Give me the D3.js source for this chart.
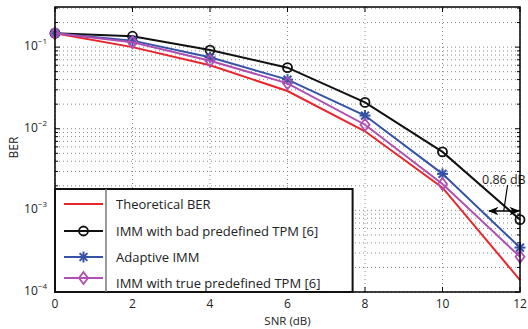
<!DOCTYPE html>
<html>
<head>
<meta charset="utf-8">
<script src="https://cdn.jsdelivr.net/npm/d3@7"></script>
<style>
  body { margin: 0; background: #fff; }
  text { font-family: "Open Sans", sans-serif; }
</style>
</head>
<body>
<div id="plot"></div>
<script>
// data
const snr = [0, 2, 4, 6, 8, 10, 12];
const theoretical = [0.148, 0.100, 0.060, 0.029, 0.0093, 0.0019, 0.00014];
const immBad = [0.148, 0.136, 0.092, 0.056, 0.021, 0.0052, 0.00077];
const adaptive = [0.148, 0.120, 0.075, 0.040, 0.0145, 0.0028, 0.00035];
const immTrue = [0.148, 0.115, 0.068, 0.036, 0.0112, 0.0021, 0.00027];
const xTicks = [0, 2, 4, 6, 8, 10, 12];
const yDecades = [-4, -3, -2, -1];
const legendLabels = ["Theoretical BER", "IMM with bad predefined TPM [6]", "Adaptive IMM", "IMM with true predefined TPM [6]"];

// set the dimensions and margins of the graph
const margin = {top: 7, right: 8, bottom: 37, left: 55},
    width = 528 - margin.left - margin.right,
    height = 329 - margin.top - margin.bottom;

const svg = d3.select("#plot")
    .append("svg")
    .attr("width", 528)
    .attr("height", 329)
    .append("g")
    .attr("transform", "translate(" + margin.left + "," + margin.top + ")");

const x = d3.scaleLinear().domain([0, 12]).range([0, width]);
const y = d3.scaleLog().domain([1e-4, 0.31]).range([height, 0]);

// grid
const minorVals = [];
for (let e = -4; e <= -1; e++) {
    for (let m = 1; m <= 9; m++) {
        const v = m * Math.pow(10, e);
        if (v <= 0.31) minorVals.push(v);
    }
}
svg.append("g").selectAll("line.hg")
    .data(minorVals)
    .enter().append("line")
    .attr("x1", 0).attr("x2", width)
    .attr("y1", d => y(d)).attr("y2", d => y(d))
    .attr("stroke", "#888").attr("stroke-width", 1)
    .attr("stroke-dasharray", "1,3");
svg.append("g").selectAll("line.vg")
    .data(xTicks)
    .enter().append("line")
    .attr("x1", d => x(d)).attr("x2", d => x(d))
    .attr("y1", 0).attr("y2", height)
    .attr("stroke", "#888").attr("stroke-width", 1)
    .attr("stroke-dasharray", "1,3");

// ticks on all sides
const tk = svg.append("g").attr("stroke", "#000");
xTicks.forEach(d => {
    tk.append("line").attr("x1", x(d)).attr("x2", x(d)).attr("y1", height).attr("y2", height - 5);
    tk.append("line").attr("x1", x(d)).attr("x2", x(d)).attr("y1", 0).attr("y2", 5);
});
minorVals.forEach(d => {
    const len = yDecades.includes(Math.round(Math.log10(d) * 1000) / 1000) ? 5 : 3;
    tk.append("line").attr("x1", 0).attr("x2", len).attr("y1", y(d)).attr("y2", y(d));
    tk.append("line").attr("x1", width).attr("x2", width - len).attr("y1", y(d)).attr("y2", y(d));
});

// tick labels
svg.append("g").selectAll("text.xt")
    .data(xTicks)
    .enter().append("text")
    .attr("x", d => x(d)).attr("y", height + 16)
    .attr("text-anchor", "middle")
    .attr("font-size", 12).attr("fill", "#222")
    .text(d => d);
const yl = svg.append("g").selectAll("text.yt")
    .data(yDecades)
    .enter().append("text")
    .attr("x", -8).attr("y", d => y(Math.pow(10, d)) + 3)
    .attr("text-anchor", "end")
    .attr("font-size", 12).attr("fill", "#222");
yl.append("tspan").text("10");
yl.append("tspan").attr("dy", -6).attr("font-size", 8).text(d => "\u2212" + (-d));

// axis labels
svg.append("text")
    .attr("x", width / 2).attr("y", height + 33)
    .attr("text-anchor", "middle").attr("font-size", 11.5).attr("fill", "#222")
    .text("SNR (dB)");
svg.append("text")
    .attr("transform", "translate(-37," + (height / 2 - 2) + ") rotate(-90)")
    .attr("text-anchor", "middle").attr("font-size", 12).attr("fill", "#222")
    .text("BER");

// series
const series = [
    {vals: theoretical, color: "#e8262b", marker: "none"},
    {vals: immBad, color: "#111", marker: "circle"},
    {vals: adaptive, color: "#3553a6", marker: "star"},
    {vals: immTrue, color: "#b04fb2", marker: "diamond"}
];
const line = d3.line().x((d, i) => x(snr[i])).y(d => y(d));

function drawMarker(g, type, cx, cy, color) {
    if (type === "circle") {
        g.append("circle").attr("cx", cx).attr("cy", cy).attr("r", 4.5)
            .attr("fill", "none").attr("stroke", color).attr("stroke-width", 1.8);
    } else if (type === "star") {
        const r = 5.5;
        [0, 45, 90, 135].forEach(a => {
            const dx = r * Math.cos(a * Math.PI / 180), dy = r * Math.sin(a * Math.PI / 180);
            g.append("line").attr("x1", cx - dx).attr("x2", cx + dx)
                .attr("y1", cy - dy).attr("y2", cy + dy)
                .attr("stroke", color).attr("stroke-width", 2);
        });
    } else if (type === "diamond") {
        g.append("path")
            .attr("d", "M" + cx + "," + (cy - 6) + "L" + (cx + 4.5) + "," + cy + "L" + cx + "," + (cy + 6) + "L" + (cx - 4.5) + "," + cy + "Z")
            .attr("fill", "none").attr("stroke", color).attr("stroke-width", 1.8);
    }
}

series.forEach(s => {
    svg.append("path")
        .datum(s.vals)
        .attr("fill", "none")
        .attr("stroke", s.color)
        .attr("stroke-width", 2)
        .attr("d", line);
    const g = svg.append("g");
    s.vals.forEach((v, i) => drawMarker(g, s.marker, x(snr[i]), y(v), s.color));
});

// 0.86 dB annotation
const ay = 204;
svg.append("defs").append("marker")
    .attr("id", "ah").attr("viewBox", "0 0 10 10")
    .attr("refX", 9).attr("refY", 5)
    .attr("markerWidth", 7).attr("markerHeight", 7)
    .attr("orient", "auto-start-reverse")
    .append("path").attr("d", "M0,1L10,5L0,9L3,5Z").attr("fill", "#000");
svg.append("line")
    .attr("x1", x(11.2)).attr("x2", x(11.97))
    .attr("y1", ay).attr("y2", ay)
    .attr("stroke", "#000").attr("stroke-width", 1.5)
    .attr("marker-start", "url(#ah)").attr("marker-end", "url(#ah)");
svg.append("line")
    .attr("x1", x(11.68)).attr("x2", x(11.58))
    .attr("y1", 178).attr("y2", ay)
    .attr("stroke", "#000").attr("stroke-width", 1.2);
svg.append("text")
    .attr("x", 427).attr("y", 177)
    .attr("font-size", 12.5).attr("fill", "#222")
    .text("0.86 dB");

// axes box
svg.append("rect")
    .attr("width", width).attr("height", height)
    .attr("fill", "none").attr("stroke", "#000").attr("stroke-width", 1.5);

// legend
const lg = svg.append("g");
const lw = x(7.68), lh = 103;
lg.append("rect")
    .attr("x", 0).attr("y", height - lh)
    .attr("width", lw).attr("height", lh)
    .attr("fill", "#fff").attr("stroke", "#111").attr("stroke-width", 2);
lg.append("line")
    .attr("x1", 51).attr("x2", 51)
    .attr("y1", height - lh).attr("y2", height)
    .attr("stroke", "#777").attr("stroke-width", 1.5);
const rowY = [197, 224, 250, 271];
series.forEach((s, i) => {
    lg.append("line")
        .attr("x1", 9).attr("x2", 48)
        .attr("y1", rowY[i]).attr("y2", rowY[i])
        .attr("stroke", s.color).attr("stroke-width", 2);
    drawMarker(lg, s.marker, 28.5, rowY[i], s.color);
    lg.append("text")
        .attr("x", 61).attr("y", (i === 3 ? rowY[i] + 10 : rowY[i] + 5))
        .attr("font-size", 13).attr("fill", "#222")
        .text(legendLabels[i]);
});
</script>
</body>
</html>
